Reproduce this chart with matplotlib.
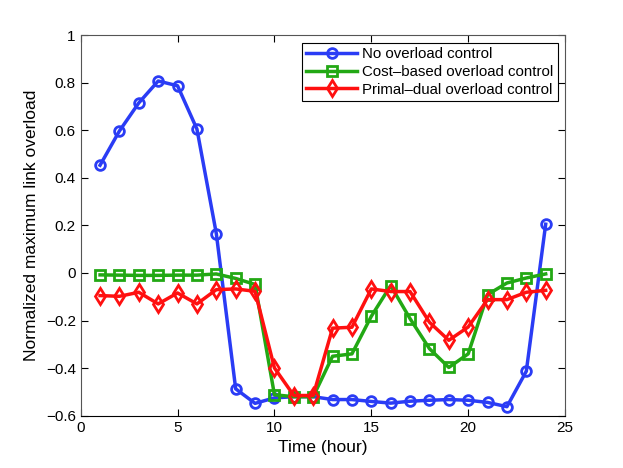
import numpy as np
import matplotlib
matplotlib.use('Agg')
import matplotlib.pyplot as plt

plt.rcParams['font.family'] = ['Liberation Sans', 'DejaVu Sans']

hours = list(range(1, 25))

no_control = [0.453, 0.597, 0.715, 0.807, 0.787, 0.605, 0.166, -0.487,
              -0.548, -0.525, -0.52, -0.52, -0.532, -0.532, -0.54, -0.547,
              -0.539, -0.535, -0.532, -0.535, -0.544, -0.562, -0.413, 0.205]

cost_based = [-0.008, -0.009, -0.01, -0.01, -0.009, -0.009, -0.004, -0.023,
              -0.048, -0.512, -0.52, -0.52, -0.35, -0.34, -0.182, -0.053,
              -0.192, -0.318, -0.397, -0.34, -0.091, -0.042, -0.021, -0.004]

primal_dual = [-0.095, -0.098, -0.081, -0.13, -0.084, -0.13, -0.07, -0.067,
               -0.077, -0.399, -0.515, -0.515, -0.232, -0.228, -0.067, -0.078,
               -0.078, -0.207, -0.283, -0.227, -0.112, -0.112, -0.081, -0.073]

labels = ['No overload control', 'Cost\u2013based overload control',
          'Primal\u2013dual overload control']

fig = plt.figure(figsize=(6.23, 4.68), dpi=100)
ax = fig.add_axes([0.1295, 0.1117, 0.7775, 0.8133])

ax.plot(hours, no_control, color='#2a3cf5', lw=2.5, marker='o', ms=7,
        mfc='none', mew=2, label=labels[0])
ax.plot(hours, cost_based, color='#22a814', lw=2.5, marker='s', ms=6.5,
        mfc='none', mew=2, label=labels[1])
ax.plot(hours, primal_dual, color='#ff1010', lw=2.5, marker='d', ms=8,
        mfc='none', mew=2, label=labels[2])

ax.set_xlim(0, 25)
ax.set_ylim(-0.6, 1)
ax.set_xticks([0, 5, 10, 15, 20, 25])
ax.set_yticks(np.arange(-0.6, 1.01, 0.2))
ax.set_yticklabels(['\u22120.6', '\u22120.4', '\u22120.2', '0', '0.2',
                    '0.4', '0.6', '0.8', '1'])
ax.tick_params(direction='in', top=True, right=True, labelsize=11, length=5)
for s in ax.spines.values():
    s.set_color('#555555')
ax.spines['bottom'].set_color('black')

ax.set_xlabel('Time (hour)', fontsize=12.5, labelpad=4)
ax.set_ylabel('Normalized maximum link overload', fontsize=12.5, labelpad=5)

leg = ax.legend(loc='upper right', fontsize=10.8, fancybox=False,
                edgecolor='black', framealpha=1, handlelength=3.4,
                borderpad=0.3, labelspacing=0.25, borderaxespad=0.5,
                handletextpad=0.3)
leg.get_frame().set_linewidth(0.8)

fig.savefig('out.png', dpi=100)
